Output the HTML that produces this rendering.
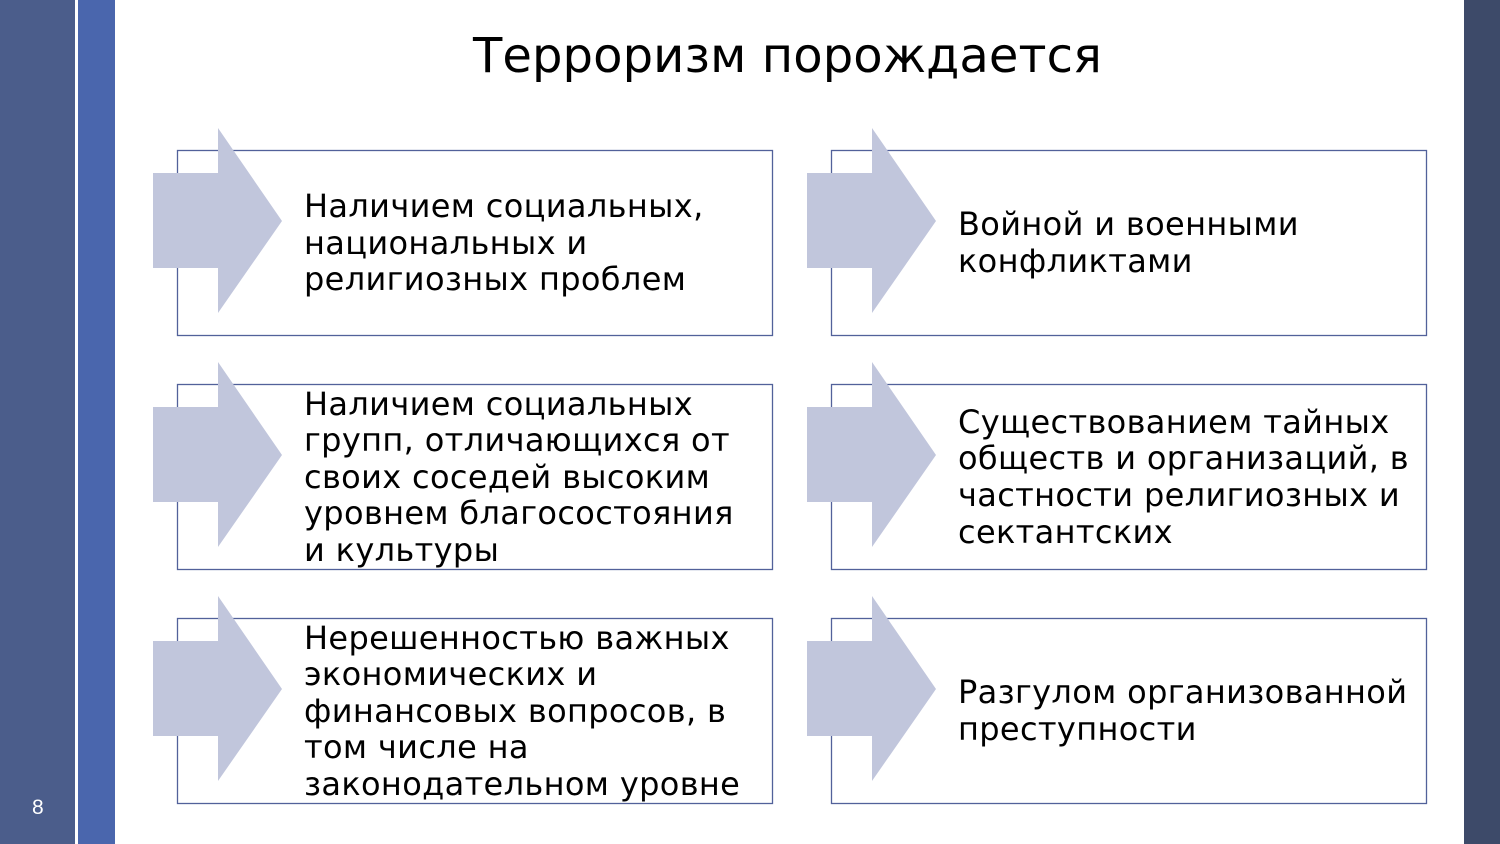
<!DOCTYPE html>
<html><head><meta charset="utf-8">
<style>
html,body{margin:0;padding:0;}
body{width:1500px;height:844px;position:relative;overflow:hidden;background:#fff;font-family:"DejaVu Sans","Liberation Sans",sans-serif;}
svg{position:absolute;left:0;top:0;}
.t{position:absolute;font-family:"DejaVu Sans","Liberation Sans",sans-serif;font-size:32px;letter-spacing:0.35px;line-height:36.6px;color:#000;white-space:nowrap;display:flex;align-items:center;}
.title{position:absolute;left:0;width:1575px;top:24px;text-align:center;font-size:48px;line-height:64px;color:#000;font-family:"DejaVu Sans","Liberation Sans",sans-serif;letter-spacing:0.1px;}
.pn{position:absolute;left:32px;top:796px;font-size:21px;line-height:24px;color:#fff;font-family:"Liberation Sans",sans-serif;}
</style></head><body>
<svg width="1500" height="844" viewBox="0 0 1500 844">
<rect x="0" y="0" width="75" height="844" fill="#4b5d8b"/>
<rect x="78" y="0" width="37" height="844" fill="#4a66ad"/>
<rect x="1464" y="0" width="36" height="844" fill="#3d4a69"/>
<g fill="none" stroke="#52619a" stroke-width="1.3">
<rect x="177.5" y="150.5" width="595" height="185"/>
<rect x="831.5" y="150.5" width="595" height="185"/>
<rect x="177.5" y="384.5" width="595" height="185"/>
<rect x="831.5" y="384.5" width="595" height="185"/>
<rect x="177.5" y="618.5" width="595" height="185"/>
<rect x="831.5" y="618.5" width="595" height="185"/>
</g>
<g fill="#c1c6dc">
<polygon points="153,173 218,173 218,128 282,221 218,313 218,268 153,268"/>
<polygon points="807,173 872,173 872,128 936,221 872,313 872,268 807,268"/>
<polygon points="153,407 218,407 218,362 282,455 218,547 218,502 153,502"/>
<polygon points="807,407 872,407 872,362 936,455 872,547 872,502 807,502"/>
<polygon points="153,641 218,641 218,596 282,689 218,781 218,736 153,736"/>
<polygon points="807,641 872,641 872,596 936,689 872,781 872,736 807,736"/>
</g>
</svg>
<div class="title">Терроризм порождается</div>
<div class="t" style="left:304px;top:150px;height:186px;"><div>Наличием социальных,<br>национальных и<br>религиозных проблем</div></div>
<div class="t" style="left:958px;top:150px;height:186px;"><div>Войной и военными<br>конфликтами</div></div>
<div class="t" style="left:304px;top:384px;height:186px;"><div>Наличием социальных<br>групп, отличающихся от<br>своих соседей высоким<br>уровнем благосостояния<br>и культуры</div></div>
<div class="t" style="left:958px;top:384px;height:186px;"><div>Существованием тайных<br>обществ и организаций, в<br>частности религиозных и<br>сектантских</div></div>
<div class="t" style="left:304px;top:618px;height:186px;"><div>Нерешенностью важных<br>экономических и<br>финансовых вопросов, в<br>том числе на<br>законодательном уровне</div></div>
<div class="t" style="left:958px;top:618px;height:186px;"><div>Разгулом организованной<br>преступности</div></div>
<div class="pn">8</div>
</body></html>
